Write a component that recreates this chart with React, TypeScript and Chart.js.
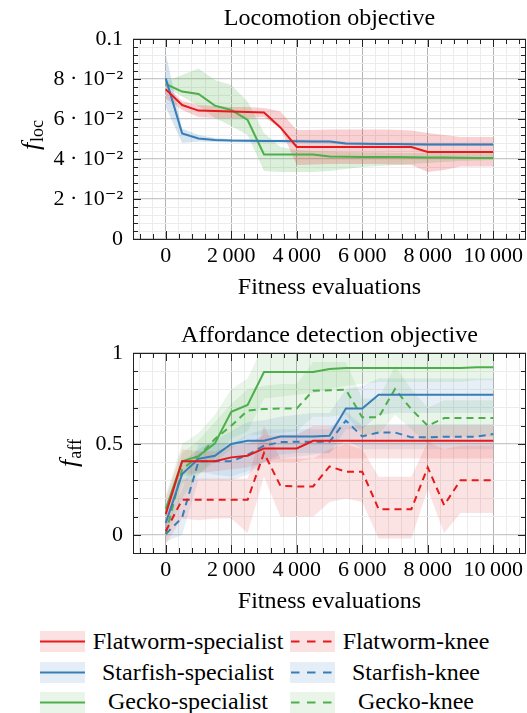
import React, { useEffect, useRef } from "react";
import { Chart, registerables } from "chart.js";

Chart.register(...registerables);

const FONT = "'Liberation Serif', 'DejaVu Serif', serif";

// ---------------- data ----------------
const evaluations = [0, 500, 1000, 1500, 2000, 2500, 3000, 3500, 4000, 4500, 5000, 5500, 6000, 6500, 7000, 7500, 8000, 8500, 9000, 9500, 10000];

const xMajorTicks = [0, 2000, 4000, 6000, 8000, 10000];
const xTickLabels = ["0", "2\u2009000", "4\u2009000", "6\u2009000", "8\u2009000", "10\u2009000"];

const locTickValues = [0, 0.02, 0.04, 0.06, 0.08, 0.1];
const locTickLabels = ["0", "2 \u00b7 10\u207b\u00b2", "4 \u00b7 10\u207b\u00b2", "6 \u00b7 10\u207b\u00b2", "8 \u00b7 10\u207b\u00b2", "0.1"];
const affTickValues = [0, 0.5, 1];
const affTickLabels = ["0", "0.5", "1"];

// Locomotion objective (f_loc)
const locFlatwormMean = [0.0748, 0.067, 0.0642, 0.064, 0.0637, 0.0635, 0.0633, 0.0558, 0.046, 0.046, 0.046, 0.046, 0.046, 0.046, 0.046, 0.046, 0.0435, 0.0435, 0.0435, 0.0435, 0.0435];
const locFlatwormLow = [0.0703, 0.0645, 0.061, 0.0605, 0.0605, 0.0605, 0.061, 0.0553, 0.037, 0.0372, 0.0375, 0.0375, 0.0375, 0.0375, 0.0372, 0.037, 0.0335, 0.0345, 0.0362, 0.0362, 0.0362];
const locFlatwormHigh = [0.0768, 0.069, 0.067, 0.0665, 0.066, 0.066, 0.0655, 0.0637, 0.0545, 0.0545, 0.0547, 0.0548, 0.0548, 0.0548, 0.0546, 0.0543, 0.053, 0.052, 0.051, 0.051, 0.051];

const locStarfishMean = [0.0803, 0.0528, 0.0503, 0.0495, 0.0492, 0.0491, 0.049, 0.049, 0.0489, 0.0488, 0.0487, 0.0478, 0.0476, 0.0475, 0.0475, 0.0474, 0.0473, 0.0473, 0.0473, 0.0473, 0.0473];
const locStarfishLow = [0.066, 0.048, 0.0487, 0.0485, 0.0484, 0.0483, 0.0482, 0.0482, 0.0481, 0.048, 0.0479, 0.047, 0.0468, 0.0467, 0.0467, 0.0466, 0.0465, 0.0465, 0.0465, 0.0465, 0.0465];
const locStarfishHigh = [0.0928, 0.0553, 0.052, 0.0505, 0.05, 0.0499, 0.0498, 0.0498, 0.0497, 0.0496, 0.0495, 0.0486, 0.0484, 0.0483, 0.0483, 0.0482, 0.0481, 0.0481, 0.0481, 0.0481, 0.0481];

const locGeckoMean = [0.0775, 0.0737, 0.0725, 0.0667, 0.0645, 0.0595, 0.0423, 0.0423, 0.0423, 0.0422, 0.0412, 0.0411, 0.041, 0.041, 0.041, 0.0409, 0.0408, 0.0407, 0.0406, 0.0405, 0.0405];
const locGeckoLow = [0.076, 0.0712, 0.0665, 0.0605, 0.0565, 0.052, 0.034, 0.0335, 0.0335, 0.0335, 0.034, 0.035, 0.036, 0.0365, 0.037, 0.0375, 0.038, 0.0385, 0.039, 0.0393, 0.0395];
const locGeckoHigh = [0.0787, 0.082, 0.0853, 0.0795, 0.077, 0.0687, 0.053, 0.046, 0.0445, 0.044, 0.0438, 0.0435, 0.0433, 0.0432, 0.043, 0.043, 0.043, 0.043, 0.043, 0.043, 0.043];

// Affordance detection objective (f_aff)
const affFlatwormMean = [0.114, 0.405, 0.405, 0.405, 0.426, 0.435, 0.475, 0.475, 0.475, 0.517, 0.517, 0.517, 0.517, 0.517, 0.517, 0.517, 0.517, 0.517, 0.517, 0.517, 0.517];
const affFlatwormLow = [0.03, 0.33, 0.34, 0.35, 0.36, 0.37, 0.4, 0.4, 0.4, 0.42, 0.42, 0.42, 0.42, 0.42, 0.42, 0.42, 0.42, 0.42, 0.42, 0.42, 0.42];
const affFlatwormHigh = [0.2, 0.47, 0.46, 0.46, 0.49, 0.5, 0.55, 0.55, 0.55, 0.6, 0.6, 0.6, 0.6, 0.6, 0.6, 0.6, 0.6, 0.6, 0.6, 0.6, 0.6];

const affStarfishMean = [0.065, 0.334, 0.418, 0.435, 0.5, 0.517, 0.517, 0.541, 0.541, 0.541, 0.545, 0.695, 0.695, 0.771, 0.771, 0.771, 0.771, 0.771, 0.771, 0.771, 0.771];
const affStarfishLow = [0.0, 0.28, 0.35, 0.33, 0.32, 0.35, 0.4, 0.42, 0.43, 0.44, 0.45, 0.58, 0.58, 0.66, 0.67, 0.67, 0.67, 0.67, 0.67, 0.67, 0.67];
const affStarfishHigh = [0.12, 0.4, 0.47, 0.52, 0.57, 0.62, 0.63, 0.65, 0.66, 0.67, 0.67, 0.8, 0.82, 0.86, 0.86, 0.86, 0.86, 0.86, 0.86, 0.86, 0.86];

const affGeckoMean = [0.141, 0.405, 0.433, 0.503, 0.677, 0.714, 0.895, 0.895, 0.895, 0.895, 0.912, 0.917, 0.917, 0.917, 0.917, 0.917, 0.917, 0.917, 0.917, 0.922, 0.922];
const affGeckoLow = [0.08, 0.32, 0.33, 0.42, 0.53, 0.57, 0.75, 0.76, 0.77, 0.78, 0.8, 0.82, 0.83, 0.84, 0.84, 0.84, 0.84, 0.84, 0.84, 0.85, 0.85];
const affGeckoHigh = [0.22, 0.5, 0.56, 0.66, 0.8, 0.86, 1.05, 1.05, 1.05, 1.05, 1.05, 1.05, 1.05, 1.04, 1.03, 1.02, 1.02, 1.02, 1.02, 1.02, 1.02];

const affFlatwormKneeMean = [0.02, 0.193, 0.193, 0.193, 0.193, 0.193, 0.45, 0.27, 0.266, 0.266, 0.376, 0.347, 0.347, 0.141, 0.141, 0.141, 0.371, 0.163, 0.3, 0.3, 0.3];
const affFlatwormKneeLow = [-0.05, 0.09, 0.08, 0.09, 0.09, 0.01, 0.32, 0.1, 0.1, 0.1, 0.18, 0.2, 0.18, -0.02, -0.02, -0.02, 0.25, 0.01, 0.12, 0.12, 0.12];
const affFlatwormKneeHigh = [0.1, 0.31, 0.31, 0.31, 0.31, 0.31, 0.6, 0.42, 0.42, 0.42, 0.47, 0.5, 0.47, 0.32, 0.32, 0.32, 0.51, 0.47, 0.49, 0.49, 0.49];

const affStarfishKneeMean = [0.004, 0.095, 0.404, 0.404, 0.404, 0.44, 0.49, 0.51, 0.512, 0.512, 0.512, 0.628, 0.541, 0.563, 0.563, 0.536, 0.536, 0.54, 0.54, 0.54, 0.554];
const affStarfishKneeLow = [-0.04, 0.0, 0.3, 0.3, 0.3, 0.33, 0.4, 0.44, 0.45, 0.45, 0.45, 0.52, 0.47, 0.47, 0.47, 0.47, 0.47, 0.47, 0.47, 0.47, 0.47];
const affStarfishKneeHigh = [0.05, 0.25, 0.5, 0.5, 0.5, 0.55, 0.58, 0.58, 0.58, 0.58, 0.58, 0.68, 0.6, 0.61, 0.61, 0.61, 0.61, 0.61, 0.61, 0.61, 0.61];

const affGeckoKneeMean = [0.004, 0.36, 0.431, 0.527, 0.6, 0.683, 0.692, 0.695, 0.695, 0.793, 0.795, 0.798, 0.646, 0.646, 0.802, 0.69, 0.6, 0.642, 0.642, 0.642, 0.642];
const affGeckoKneeLow = [-0.03, 0.2, 0.33, 0.4, 0.47, 0.55, 0.55, 0.56, 0.57, 0.65, 0.65, 0.66, 0.55, 0.55, 0.66, 0.58, 0.5, 0.54, 0.54, 0.54, 0.54];
const affGeckoKneeHigh = [0.05, 0.45, 0.52, 0.62, 0.72, 0.8, 0.82, 0.83, 0.83, 0.95, 0.95, 0.95, 0.75, 0.75, 0.93, 0.8, 0.7, 0.74, 0.74, 0.74, 0.74];

// ---------------- styles ----------------
const RED = "#e41a1c";
const BLUE = "#377eb8";
const GREEN = "#4daf4a";
const RED_RGB = "228,26,28";
const BLUE_RGB = "55,126,184";
const GREEN_RGB = "77,175,74";
const DASH = [7, 5];

type Series = { label: string; color: string; rgb: string; dash: number[]; mean: number[]; low: number[]; high: number[] };

const pts = (arr: number[]) => evaluations.map((x, i) => ({ x, y: arr[i] }));

function buildDatasets(series: Series[], alpha: number) {
  const lines = series.map((s) => ({
    label: s.label,
    data: pts(s.mean),
    borderColor: s.color,
    borderWidth: 2,
    borderDash: s.dash,
    pointRadius: 0,
    fill: false,
    tension: 0,
  }));
  const bands: any[] = [];
  series.forEach((s) => {
    const upperIndex = series.length + bands.length;
    bands.push({
      label: s.label + " upper",
      data: pts(s.high),
      borderWidth: 0,
      borderColor: "rgba(0,0,0,0)",
      pointRadius: 0,
      fill: false,
    });
    bands.push({
      label: s.label + " lower",
      data: pts(s.low),
      borderWidth: 0,
      borderColor: "rgba(0,0,0,0)",
      pointRadius: 0,
      fill: upperIndex,
      backgroundColor: `rgba(${s.rgb},${alpha})`,
    });
  });
  return [...lines, ...bands];
}

const near = (a: number, b: number) => Math.abs(a - b) < 1e-9;

const framePlugin = {
  id: "frame",
  afterDraw(chart: any, _args: any, opts: any) {
    const { ctx, chartArea } = chart;
    const { left, right, top, bottom } = chartArea;
    const xs = chart.scales.x;
    const ys = chart.scales.y;
    ctx.save();
    ctx.strokeStyle = "#222";
    ctx.lineWidth = 1;
    ctx.beginPath();
    xs.ticks.forEach((t: any) => {
      if (t.value <= xs.min || t.value >= xs.max) return;
      const px = Math.round(xs.getPixelForValue(t.value)) + 0.5;
      const len = xMajorTicks.some((m) => near(m, t.value)) ? 8 : 5;
      ctx.moveTo(px, bottom);
      ctx.lineTo(px, bottom - len);
      ctx.moveTo(px, top);
      ctx.lineTo(px, top + len);
    });
    ys.ticks.forEach((t: any) => {
      if (t.value <= ys.min + 1e-9 || t.value >= ys.max - 1e-9) return;
      const py = Math.round(ys.getPixelForValue(t.value)) + 0.5;
      const len = opts.yMajor.some((m: number) => near(m, t.value)) ? 8 : 5;
      ctx.moveTo(left, py);
      ctx.lineTo(left + len, py);
      ctx.moveTo(right, py);
      ctx.lineTo(right - len, py);
    });
    ctx.stroke();
    ctx.strokeRect(Math.round(left) + 0.5, Math.round(top) + 0.5, Math.round(right - left) - 1, Math.round(bottom - top));
    // y axis title: italic f with subscript
    ctx.translate(opts.titleX, (top + bottom) / 2 + (opts.titleDy || 0));
    ctx.rotate(-Math.PI / 2);
    ctx.fillStyle = "#000";
    ctx.textBaseline = "alphabetic";
    const fFont = `italic 26px ${FONT}`;
    const sFont = `18px ${FONT}`;
    ctx.font = fFont;
    const wf = ctx.measureText(opts.symbol).width;
    ctx.font = sFont;
    const ws = ctx.measureText(opts.sub).width;
    const start = -(wf + ws + 1) / 2;
    ctx.font = fFont;
    ctx.fillText(opts.symbol, start, 8);
    ctx.font = sFont;
    ctx.fillText(opts.sub, start + wf + 1, 12);
    ctx.restore();
  },
};

function makeConfig(opts: {
  title: string;
  titlePad: { top: number; bottom: number };
  datasets: any[];
  yMin: number;
  yMax: number;
  yStep: number;
  yMajor: number[];
  yLabels: string[];
  ySymbol: string;
  ySub: string;
  yTitleX: number;
  yTitleDy: number;
}) {
  return {
    type: "line",
    data: { datasets: opts.datasets },
    plugins: [framePlugin],
    options: {
      animation: false,
      responsive: false,
      devicePixelRatio: 1,
      layout: { padding: { left: 0, right: 1, top: 0, bottom: 0 } },
      elements: { line: { borderJoinStyle: "miter" } },
      plugins: {
        legend: { display: false },
        tooltip: { enabled: false },
        filler: { drawTime: "beforeDatasetsDraw", propagate: false },
        title: {
          display: true,
          fullSize: false,
          text: opts.title,
          color: "#000",
          font: { family: FONT, size: 24, weight: "normal", lineHeight: 1.2 },
          padding: opts.titlePad,
        },
        frame: {
          yMajor: opts.yMajor,
          symbol: opts.ySymbol,
          sub: opts.ySub,
          titleX: opts.yTitleX,
          titleDy: opts.yTitleDy,
        },
      },
      scales: {
        x: {
          type: "linear",
          min: -1000,
          max: 11000,
          afterBuildTicks: (axis: any) => {
            const t: any[] = [];
            for (let v = -800; v <= 10800; v += 400) t.push({ value: v });
            axis.ticks = t;
          },
          afterFit: (scale: any) => {
            scale.height = 66;
            scale.paddingLeft = 0;
            scale.paddingRight = 0;
          },
          grid: {
            drawTicks: false,
            color: (c: any) => (c.tick && xMajorTicks.some((m) => near(m, c.tick.value)) ? "#b4b4b4" : "#ececec"),
            lineWidth: 1,
          },
          border: { display: false },
          ticks: {
            autoSkip: false,
            maxRotation: 0,
            padding: 4,
            color: "#000",
            font: { family: FONT, size: 22 },
            callback: (v: number) => {
              const i = xMajorTicks.findIndex((m) => near(m, v));
              return i >= 0 ? xTickLabels[i] : "";
            },
          },
          title: {
            display: true,
            text: "Fitness evaluations",
            color: "#000",
            font: { family: FONT, size: 24, lineHeight: 1.2 },
            padding: { top: 0, bottom: 2.6 },
          },
        },
        y: {
          type: "linear",
          min: opts.yMin,
          max: opts.yMax,
          afterBuildTicks: (axis: any) => {
            const t: any[] = [];
            const n = Math.round((opts.yMax - opts.yMin) / opts.yStep);
            for (let k = 0; k <= n; k++) t.push({ value: +(opts.yMin + k * opts.yStep).toFixed(6) });
            axis.ticks = t;
          },
          afterFit: (scale: any) => {
            scale.width = 133;
            scale.paddingTop = 0;
            scale.paddingBottom = 0;
          },
          grid: {
            drawTicks: false,
            color: (c: any) => (c.tick && opts.yMajor.some((m) => near(m, c.tick.value)) ? "#c8c8c8" : "#ececec"),
            lineWidth: (c: any) => (c.tick && opts.yMajor.some((m) => near(m, c.tick.value)) ? 1.3 : 1),
          },
          border: { display: false },
          ticks: {
            autoSkip: false,
            padding: 10,
            color: "#000",
            font: { family: FONT, size: 22 },
            callback: (v: number) => {
              const i = opts.yMajor.findIndex((m) => near(m, v));
              return i >= 0 ? opts.yLabels[i] : "";
            },
          },
        },
      },
    },
  };
}

function ChartCanvas({ config, top }: { config: any; top: number }) {
  const ref = useRef<HTMLCanvasElement | null>(null);
  useEffect(() => {
    if (!ref.current) return;
    const chart = new Chart(ref.current, config);
    return () => chart.destroy();
  }, [config]);
  return (
    <canvas
      ref={ref}
      width={527}
      height={305}
      style={{ position: "absolute", left: 0, top, width: 527, height: 305 }}
    />
  );
}

const legendItems = [
  { label: "Flatworm-specialist", color: RED, rgb: RED_RGB, dashed: false, row: 0, col: 0 },
  { label: "Flatworm-knee", color: RED, rgb: RED_RGB, dashed: true, row: 0, col: 1 },
  { label: "Starfish-specialist", color: BLUE, rgb: BLUE_RGB, dashed: false, row: 1, col: 0 },
  { label: "Starfish-knee", color: BLUE, rgb: BLUE_RGB, dashed: true, row: 1, col: 1 },
  { label: "Gecko-specialist", color: GREEN, rgb: GREEN_RGB, dashed: false, row: 2, col: 0 },
  { label: "Gecko-knee", color: GREEN, rgb: GREEN_RGB, dashed: true, row: 2, col: 1 },
];

function Legend() {
  const swatchY = [641.5, 672, 702];
  const textTop = [625.5, 656.5, 685.5];
  const swatchX = [40, 290];
  const textCx = [188, 416];
  return (
    <>
      {legendItems.map((it) => {
        const cy = swatchY[it.row];
        return (
          <React.Fragment key={it.label}>
            <svg
              width={45}
              height={21}
              style={{ position: "absolute", left: swatchX[it.col], top: cy - 10.5 }}
            >
              <rect x={0} y={0} width={45} height={21} fill={`rgba(${it.rgb},0.13)`} />
              <line
                x1={it.dashed ? 1 : 0}
                y1={10.5}
                x2={45}
                y2={10.5}
                stroke={it.color}
                strokeWidth={2}
                strokeDasharray={it.dashed ? "8.5 7.5" : undefined}
              />
            </svg>
            <div
              style={{
                position: "absolute",
                left: textCx[it.col] - 110,
                width: 220,
                top: textTop[it.row],
                height: 30,
                lineHeight: "30px",
                textAlign: "center",
                fontFamily: FONT,
                fontSize: 24,
                color: "#000",
                whiteSpace: "nowrap",
              }}
            >
              {it.label}
            </div>
          </React.Fragment>
        );
      })}
    </>
  );
}

const locSeries: Series[] = [
  { label: "Flatworm-specialist", color: RED, rgb: RED_RGB, dash: [], mean: locFlatwormMean, low: locFlatwormLow, high: locFlatwormHigh },
  { label: "Starfish-specialist", color: BLUE, rgb: BLUE_RGB, dash: [], mean: locStarfishMean, low: locStarfishLow, high: locStarfishHigh },
  { label: "Gecko-specialist", color: GREEN, rgb: GREEN_RGB, dash: [], mean: locGeckoMean, low: locGeckoLow, high: locGeckoHigh },
];

const affSeries: Series[] = [
  { label: "Flatworm-specialist", color: RED, rgb: RED_RGB, dash: [], mean: affFlatwormMean, low: affFlatwormLow, high: affFlatwormHigh },
  { label: "Starfish-specialist", color: BLUE, rgb: BLUE_RGB, dash: [], mean: affStarfishMean, low: affStarfishLow, high: affStarfishHigh },
  { label: "Gecko-specialist", color: GREEN, rgb: GREEN_RGB, dash: [], mean: affGeckoMean, low: affGeckoLow, high: affGeckoHigh },
  { label: "Flatworm-knee", color: RED, rgb: RED_RGB, dash: DASH, mean: affFlatwormKneeMean, low: affFlatwormKneeLow, high: affFlatwormKneeHigh },
  { label: "Starfish-knee", color: BLUE, rgb: BLUE_RGB, dash: DASH, mean: affStarfishKneeMean, low: affStarfishKneeLow, high: affStarfishKneeHigh },
  { label: "Gecko-knee", color: GREEN, rgb: GREEN_RGB, dash: DASH, mean: affGeckoKneeMean, low: affGeckoKneeLow, high: affGeckoKneeHigh },
];

const locConfig = makeConfig({
  title: "Locomotion objective",
  titlePad: { top: 4, bottom: 6.2 },
  datasets: buildDatasets(locSeries, 0.2),
  yMin: 0,
  yMax: 0.1,
  yStep: 0.004,
  yMajor: locTickValues,
  yLabels: locTickLabels,
  ySymbol: "f",
  ySub: "loc",
  yTitleX: 31,
  yTitleDy: -4,
});

const affConfig = makeConfig({
  title: "Affordance detection objective",
  titlePad: { top: 7.5, bottom: 2.7 },
  datasets: buildDatasets(affSeries, 0.12),
  yMin: -0.1,
  yMax: 1,
  yStep: 0.1,
  yMajor: affTickValues,
  yLabels: affTickLabels,
  ySymbol: "f",
  ySub: "aff",
  yTitleX: 69,
  yTitleDy: 0,
});

export default function App() {
  return (
    <div style={{ position: "absolute", left: 0, top: 0, width: 527, height: 713, background: "#fff", overflow: "hidden" }}>
      <ChartCanvas config={locConfig} top={0} />
      <ChartCanvas config={affConfig} top={314} />
      <Legend />
    </div>
  );
}
